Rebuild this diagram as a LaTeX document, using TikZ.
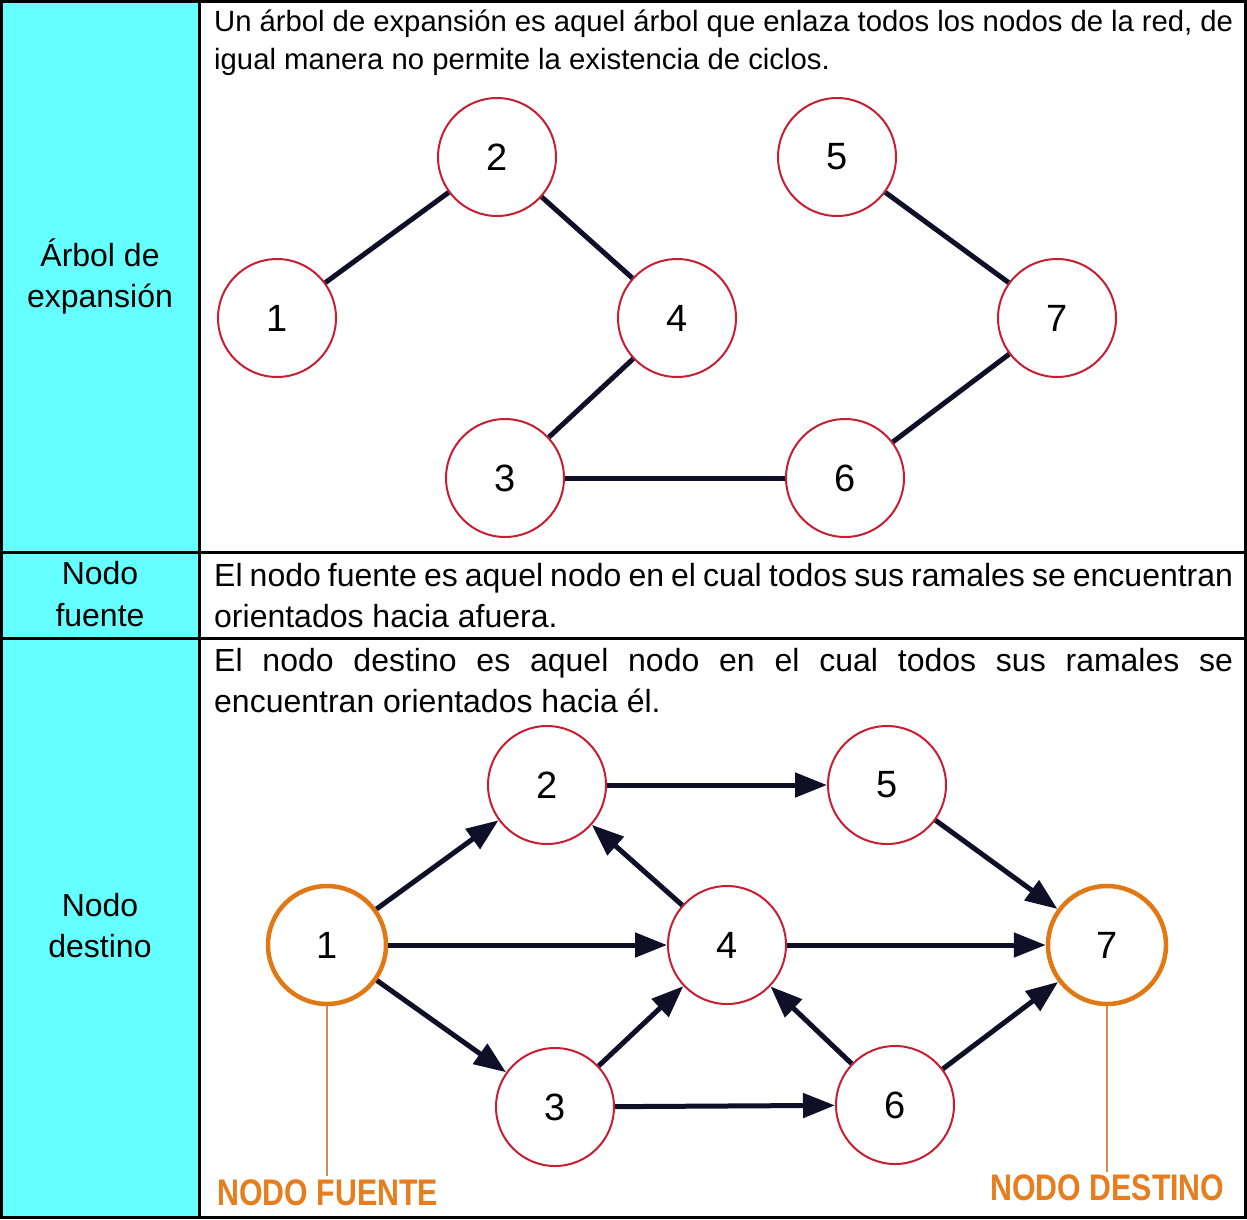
\documentclass[tikz,border=0pt]{standalone}
\usepackage{fontspec}
\usepackage{graphicx}
\setmainfont{Liberation Sans}
\usetikzlibrary{arrows.meta}
\definecolor{cyanbg}{RGB}{102,255,255}
\definecolor{nodered}{RGB}{200,30,50}
\definecolor{nodeorange}{RGB}{225,120,20}
\definecolor{edgecol}{RGB}{15,15,40}
\definecolor{labelorange}{RGB}{230,125,30}
\definecolor{leadcol}{RGB}{205,140,80}
\begin{document}
\begin{tikzpicture}[x=1pt,y=-1pt,
  vert/.style={circle, draw=nodered, line width=2pt, fill=white, minimum size=118pt, inner sep=0pt, font=\fontsize{38}{38}\selectfont},
  srcv/.style={vert, draw=nodeorange, line width=4.5pt},
  tedge/.style={draw=edgecol, line width=5pt},
  aedge/.style={draw=edgecol, line width=5pt, -{Triangle[length=32pt,width=24pt]}},
  bodyA/.style={anchor=base west, inner sep=0pt, font=\fontsize{29.3}{40}\selectfont},
  bodyB/.style={anchor=base west, inner sep=0pt, font=\fontsize{32}{40}\selectfont},
  lefttxt/.style={anchor=base, inner sep=0pt, font=\fontsize{32}{40}\selectfont},
  lead/.style={draw=leadcol, line width=1.5pt},
  tag/.style={anchor=base west, inner sep=0pt, text=labelorange, font=\fontsize{37}{37}\selectfont\bfseries}
]
\useasboundingbox (0,0) rectangle (1247,1219);
% table
\fill[cyanbg] (0,0) rectangle (199,1219);
\draw[line width=3pt] (1.5,1.5) rectangle (1245.5,1217.5);
\draw[line width=3pt] (199,0) -- (199,1219);
\draw[line width=3pt] (0,552) -- (1247,552);
\draw[line width=3pt] (0,638) -- (1247,638);

% left column labels
\node[lefttxt] (la1) at (100,266) {Árbol de};
\node[lefttxt] (la2) at (100,307) {expansión};
\node[lefttxt] (lb1) at (100,584) {Nodo};
\node[lefttxt] (lb2) at (100,626) {fuente};
\node[lefttxt] (lc1) at (100,916) {Nodo};
\node[lefttxt] (lc2) at (100,957) {destino};

% row texts
\node[bodyA] (ta1) at (214,31) {\makebox[1019pt][s]{Un árbol de expansión es aquel árbol que enlaza todos los nodos de la red, de}};
\node[bodyA] (ta2) at (214,69) {igual manera no permite la existencia de ciclos.};
\node[bodyB] (tb1) at (214,586) {\makebox[1019pt][s]{El nodo fuente es aquel nodo en el cual todos sus ramales se encuentran}};
\node[bodyB] (tb2) at (214,627) {orientados hacia afuera.};
\node[bodyB] (tc1) at (214,671) {\makebox[1019pt][s]{El nodo destino es aquel nodo en el cual todos sus ramales se}};
\node[bodyB] (tc2) at (214,712) {encuentran orientados hacia él.};

% spanning tree
\node[vert] (a1) at (277,318) {1};
\node[vert] (a2) at (497,157) {2};
\node[vert] (a4) at (677,318) {4};
\node[vert] (a3) at (505,478) {3};
\node[vert] (a5) at (837,157) {5};
\node[vert] (a7) at (1057,318) {7};
\node[vert] (a6) at (845,478) {6};
\draw[tedge] (a1) -- (a2);
\draw[tedge] (a2) -- (a4);
\draw[tedge] (a4) -- (a3);
\draw[tedge] (a3) -- (a6);
\draw[tedge] (a5) -- (a7);
\draw[tedge] (a7) -- (a6);

% directed graph
\node[srcv] (b1) at (327,945) {1};
\node[vert] (b2) at (547,785) {2};
\node[vert] (b5) at (887,785) {5};
\node[vert] (b4) at (727,945) {4};
\node[srcv] (b7) at (1107,945) {7};
\node[vert] (b3) at (555,1107) {3};
\node[vert] (b6) at (895,1105) {6};
\draw[aedge] (b1) -- (b2);
\draw[aedge] (b1) -- (b4);
\draw[aedge] (b1) -- (b3);
\draw[aedge] (b2) -- (b5);
\draw[aedge] (b4) -- (b2);
\draw[aedge] (b3) -- (b4);
\draw[aedge] (b3) -- (b6);
\draw[aedge] (b4) -- (b7);
\draw[aedge] (b5) -- (b7);
\draw[aedge] (b6) -- (b4);
\draw[aedge] (b6) -- (b7);

% leaders and tags
\coordinate (lf) at (327,1176);
\coordinate (ld) at (1107,1172);
\draw[lead] (b1.south) -- (lf);
\draw[lead] (b7.south) -- (ld);
\node[tag] (nf) at (217,1205) {\scalebox{0.82}[1]{NODO FUENTE}};
\node[tag] (nd) at (990,1200) {\scalebox{0.82}[1]{NODO DESTINO}};
\end{tikzpicture}
\end{document}
